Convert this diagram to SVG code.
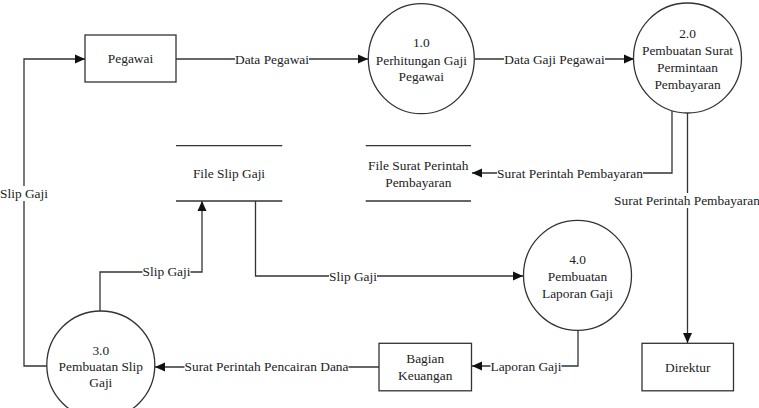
<svg xmlns="http://www.w3.org/2000/svg" width="759" height="408" viewBox="0 0 759 408">
<style>
.n{fill:#fff;stroke:#333;stroke-width:1.3}
.st{stroke:#333;stroke-width:1.3;fill:none}
.c{stroke:#333;stroke-width:1.3;fill:none;marker-end:url(#ah)}
.bg{fill:#fff}
</style>
<defs>
<marker id="ah" markerUnits="userSpaceOnUse" markerWidth="10" markerHeight="10" viewBox="0 0 10 10" refX="10" refY="5" orient="auto">
<path d="M0,0.5 L10,5 L0,9.5 z" fill="#111"/>
</marker>
</defs>
<rect width="759" height="408" fill="#fff"/>
<g id="connectors">
<path class="c" d="M47,366 H24 V59 H85"/>
<path class="c" d="M176,59 H368"/>
<path class="c" d="M475,59 H634"/>
<path class="c" d="M672,111 V173 H472"/>
<path class="c" d="M687.5,113 V343"/>
<path class="c" d="M100,311 V272 H202 V201"/>
<path class="c" d="M255.5,201 V276 H523"/>
<path class="c" d="M578,330 V366 H472"/>
<path class="c" d="M379,367 H155"/>
<rect class="bg" x="0" y="186" width="48" height="15"/>
<text x="24" y="197.5" font-family="Liberation Serif" font-size="13.4" fill="#222" text-anchor="middle">Slip Gaji</text>
<rect class="bg" x="235" y="52" width="74" height="15"/>
<text x="272" y="63.5" font-family="Liberation Serif" font-size="13.4" fill="#222" text-anchor="middle">Data Pegawai</text>
<rect class="bg" x="504" y="52" width="101" height="15"/>
<text x="554.5" y="63.5" font-family="Liberation Serif" font-size="13.4" fill="#222" text-anchor="middle">Data Gaji Pegawai</text>
<rect class="bg" x="497" y="166" width="146" height="15"/>
<text x="570" y="177.5" font-family="Liberation Serif" font-size="13.4" fill="#222" text-anchor="middle">Surat Perintah Pembayaran</text>
<rect class="bg" x="614" y="193" width="146" height="15"/>
<text x="687" y="204.5" font-family="Liberation Serif" font-size="13.4" fill="#222" text-anchor="middle">Surat Perintah Pembayaran</text>
<rect class="bg" x="142.5" y="265" width="48" height="15"/>
<text x="166.5" y="276" font-family="Liberation Serif" font-size="13.4" fill="#222" text-anchor="middle">Slip Gaji</text>
<rect class="bg" x="329" y="269" width="48" height="15"/>
<text x="353" y="280.5" font-family="Liberation Serif" font-size="13.4" fill="#222" text-anchor="middle">Slip Gaji</text>
<rect class="bg" x="490.5" y="359" width="71" height="15"/>
<text x="526" y="370.5" font-family="Liberation Serif" font-size="13.4" fill="#222" text-anchor="middle">Laporan Gaji</text>
<rect class="bg" x="184.5" y="360" width="164" height="15"/>
<text x="266.5" y="371" font-family="Liberation Serif" font-size="13.4" fill="#222" text-anchor="middle">Surat Perintah Pencairan Dana</text>
</g>
<g id="pegawai">
<rect class="n" x="85" y="35" width="91" height="47"/>
<text x="130.5" y="63" font-family="Liberation Serif" font-size="13.4" fill="#222" text-anchor="middle">Pegawai</text>
</g>
<g id="p1">
<ellipse class="n" cx="421.3" cy="58.7" rx="53" ry="55"/>
<text x="421.3" y="47" font-family="Liberation Serif" font-size="13.4" fill="#222" text-anchor="middle">1.0</text>
<text x="421.3" y="64.5" font-family="Liberation Serif" font-size="13.4" fill="#222" text-anchor="middle">Perhitungan Gaji</text>
<text x="421.3" y="81" font-family="Liberation Serif" font-size="13.4" fill="#222" text-anchor="middle">Pegawai</text>
</g>
<g id="p2">
<ellipse class="n" cx="687.5" cy="58" rx="54" ry="55"/>
<text x="687.5" y="38" font-family="Liberation Serif" font-size="13.4" fill="#222" text-anchor="middle">2.0</text>
<text x="687.5" y="55" font-family="Liberation Serif" font-size="13.4" fill="#222" text-anchor="middle">Pembuatan Surat</text>
<text x="687.5" y="72" font-family="Liberation Serif" font-size="13.4" fill="#222" text-anchor="middle">Permintaan</text>
<text x="687.5" y="88.5" font-family="Liberation Serif" font-size="13.4" fill="#222" text-anchor="middle">Pembayaran</text>
</g>
<g id="store1">
<line class="st" x1="176" y1="145.7" x2="282.3" y2="145.7"/>
<line class="st" x1="176" y1="201" x2="282.3" y2="201"/>
<text x="229" y="177.7" font-family="Liberation Serif" font-size="13.4" fill="#222" text-anchor="middle">File Slip Gaji</text>
</g>
<g id="store2">
<line class="st" x1="365.7" y1="145.7" x2="471" y2="145.7"/>
<line class="st" x1="365.7" y1="201" x2="471" y2="201"/>
<text x="418.3" y="169.5" font-family="Liberation Serif" font-size="13.4" fill="#222" text-anchor="middle">File Surat Perintah</text>
<text x="418.3" y="187" font-family="Liberation Serif" font-size="13.4" fill="#222" text-anchor="middle">Pembayaran</text>
</g>
<g id="p4">
<ellipse class="n" cx="577.5" cy="275.3" rx="54" ry="55"/>
<text x="577.5" y="264" font-family="Liberation Serif" font-size="13.4" fill="#222" text-anchor="middle">4.0</text>
<text x="577.5" y="281" font-family="Liberation Serif" font-size="13.4" fill="#222" text-anchor="middle">Pembuatan</text>
<text x="577.5" y="297.5" font-family="Liberation Serif" font-size="13.4" fill="#222" text-anchor="middle">Laporan Gaji</text>
</g>
<g id="p3">
<ellipse class="n" cx="100.8" cy="365" rx="54" ry="54"/>
<text x="100.8" y="354.5" font-family="Liberation Serif" font-size="13.4" fill="#222" text-anchor="middle">3.0</text>
<text x="100.8" y="371" font-family="Liberation Serif" font-size="13.4" fill="#222" text-anchor="middle">Pembuatan Slip</text>
<text x="100.8" y="387" font-family="Liberation Serif" font-size="13.4" fill="#222" text-anchor="middle">Gaji</text>
</g>
<g id="bagian">
<rect class="n" x="379" y="343.3" width="92.5" height="47.5"/>
<text x="425.2" y="362.5" font-family="Liberation Serif" font-size="13.4" fill="#222" text-anchor="middle">Bagian</text>
<text x="425.2" y="379.5" font-family="Liberation Serif" font-size="13.4" fill="#222" text-anchor="middle">Keuangan</text>
</g>
<g id="direktur">
<rect class="n" x="642" y="343.3" width="91.5" height="47.5"/>
<text x="687.7" y="371.5" font-family="Liberation Serif" font-size="13.4" fill="#222" text-anchor="middle">Direktur</text>
</g>
</svg>
